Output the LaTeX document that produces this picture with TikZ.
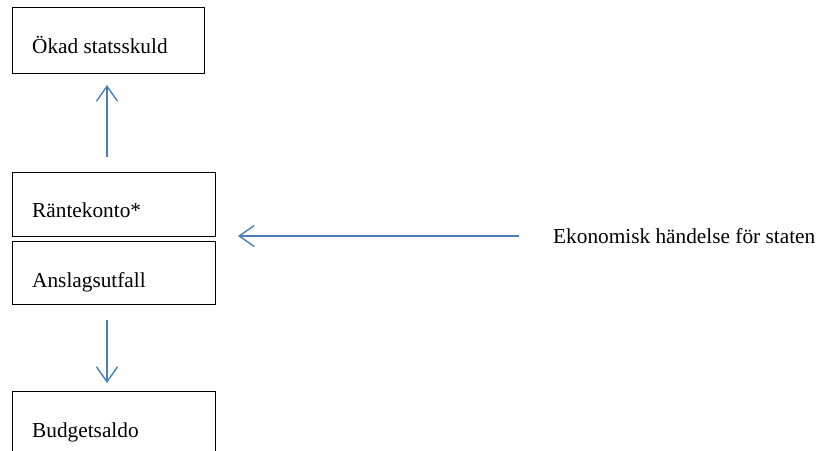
\documentclass[tikz,border=0pt]{standalone}
\usepackage{fontspec}
\setmainfont{Liberation Serif}
\usetikzlibrary{arrows.meta}
\definecolor{arrowblue}{HTML}{4A7EBB}
\begin{document}
\begin{tikzpicture}[x=1pt,y=-1pt,
  box/.style={draw=black,line width=1.3pt,inner sep=0pt},
  lbl/.style={inner sep=0pt,anchor=base west,font=\fontsize{21.3}{25}\selectfont},
  flow/.style={draw=arrowblue,line width=1.4pt,-{Straight Barb[length=15pt,width=21pt,line width=1.4pt]}}]
\useasboundingbox (0,0) rectangle (819,450);
\clip (0,0) rectangle (819,450);
\node[box,minimum width=192pt,minimum height=66pt,anchor=north west] (b1) at (12,7) {};
\node[box,minimum width=203pt,minimum height=64pt,anchor=north west] (b2) at (12,172) {};
\node[box,minimum width=203pt,minimum height=63pt,anchor=north west] (b3) at (12,241) {};
\node[box,minimum width=203pt,minimum height=90pt,anchor=north west] (b4) at (12,391) {};
\node[lbl] (t1) at (32,53) {Ökad statsskuld};
\node[lbl] (t2) at (32,217) {Räntekonto*};
\node[lbl] (t3) at (32,287) {Anslagsutfall};
\node[lbl] (t4) at (32,437) {Budgetsaldo};
\node[lbl] (t5) at (553,243) {Ekonomisk händelse för staten};
\coordinate (u1) at (107,157);
\coordinate (u2) at (107,85);
\coordinate (d1) at (107,320);
\coordinate (d2) at (107,383);
\coordinate (h1) at (519,236);
\coordinate (h2) at (238,236);
\draw[flow] (u1) -- (u2);
\draw[flow] (d1) -- (d2);
\draw[flow] (h1) -- (h2);
\end{tikzpicture}
\end{document}
